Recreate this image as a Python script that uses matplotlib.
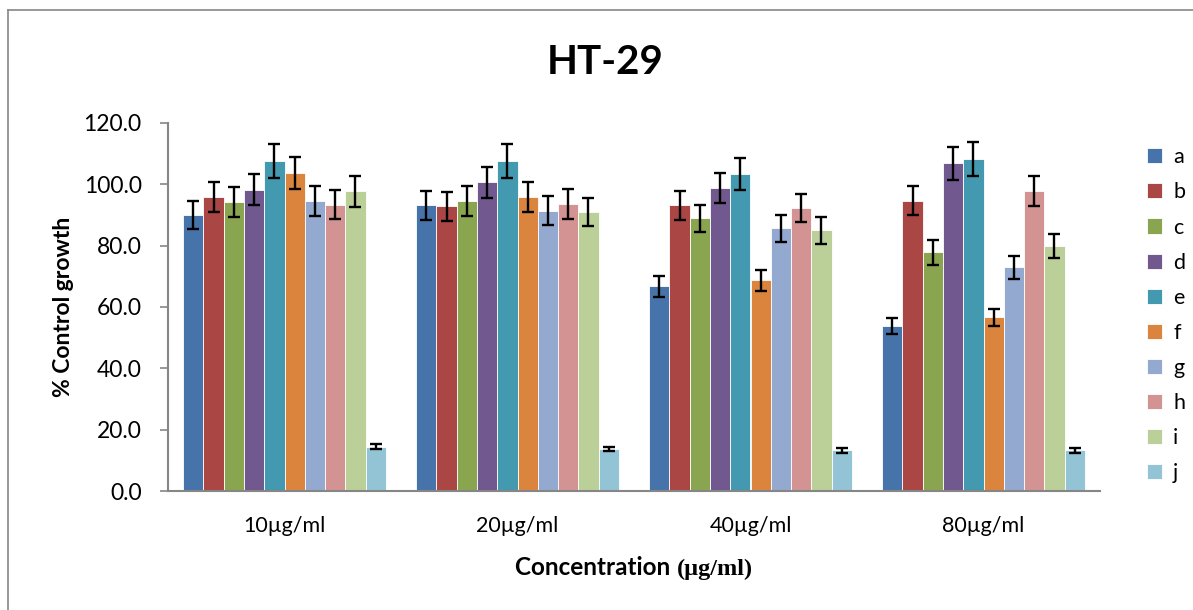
import matplotlib
matplotlib.use("Agg")
import matplotlib.pyplot as plt
import numpy as np
from matplotlib.lines import Line2D
from matplotlib.offsetbox import TextArea, HPacker, AnchoredOffsetbox

# data
concentrations = ["10µg/ml", "20µg/ml", "40µg/ml", "80µg/ml"]
series = ["a", "b", "c", "d", "e", "f", "g", "h", "i", "j"]
values = {
    "a": [90.0, 93.1, 66.7, 53.8],
    "b": [95.9, 92.8, 93.1, 94.7],
    "c": [94.3, 94.6, 88.9, 77.8],
    "d": [98.3, 100.7, 98.8, 106.9],
    "e": [107.6, 107.7, 103.3, 108.2],
    "f": [103.6, 95.9, 68.7, 56.6],
    "g": [94.6, 91.4, 85.6, 72.9],
    "h": [93.3, 93.6, 92.3, 97.9],
    "i": [97.7, 91.1, 85.0, 79.9],
    "j": [14.5, 13.7, 13.3, 13.3],
}
errors = {
    "a": [4.6, 4.7, 3.4, 2.7],
    "b": [4.9, 4.7, 4.7, 4.8],
    "c": [4.8, 4.8, 4.5, 4.0],
    "d": [5.0, 5.1, 5.0, 5.4],
    "e": [5.4, 5.5, 5.2, 5.5],
    "f": [5.2, 4.9, 3.5, 2.9],
    "g": [4.8, 4.7, 4.3, 3.7],
    "h": [4.7, 4.8, 4.7, 4.9],
    "i": [5.0, 4.6, 4.3, 4.0],
    "j": [0.8, 0.75, 0.75, 0.75],
}
colors = ["#4674AA", "#AA4643", "#8AA54F", "#71588F", "#4299B0",
          "#DB843D", "#94A9CF", "#D29392", "#BBCF99", "#93C4D6"]

plt.rcParams["font.family"] = ["Lato", "DejaVu Sans"]

fig = plt.figure(figsize=(11.93, 6.10), dpi=100)
W, H = 1193, 610
ax = fig.add_axes([168 / W, 1 - 491 / H, (1100 - 168) / W, (491 - 123) / H])

x = np.arange(len(concentrations))
n = len(series)
group_w = 0.87
bw = group_w / n
for i, (s, c) in enumerate(zip(series, colors)):
    pos = x - group_w / 2 + bw * (i + 0.5)
    ax.bar(pos, values[s], bw, color=c, edgecolor="white", linewidth=0.6,
           label=s, zorder=2)
    ax.errorbar(pos, values[s], yerr=errors[s], fmt="none", ecolor="black",
                elinewidth=1.7, capsize=4.5, capthick=1.7, zorder=3)

ax.set_xlim(-0.5, len(concentrations) - 0.5)
ax.set_ylim(0, 120)
ax.set_yticks(np.arange(0, 121, 20))
ax.set_yticklabels([f"{v:.1f}" for v in np.arange(0, 121, 20)], fontsize=16.5)
ax.set_xticks(x)
ax.set_xticklabels(concentrations, fontsize=15.5)
ax.tick_params(axis="x", length=0, pad=18)
ax.tick_params(axis="y", length=6, color="#868686", width=1.2, pad=13)
for side in ["top", "right"]:
    ax.spines[side].set_visible(False)
for side in ["left", "bottom"]:
    ax.spines[side].set_color("#868686")
    ax.spines[side].set_linewidth(1.5)

ax.set_ylabel("% Control growth", fontsize=16.5, fontweight="bold", labelpad=7)

fig.text(605 / W, 1 - 62 / H, "HT-29", ha="center", va="center",
         fontsize=29, fontweight="bold")

# x label with serif unit part
t1 = TextArea("Concentration ", textprops=dict(fontsize=17.5, fontweight="bold", family="Lato"))
t2 = TextArea("(µg/ml)", textprops=dict(fontsize=17.5, fontweight="bold", family="Liberation Serif"))
box = HPacker(children=[t1, t2], align="baseline", pad=0, sep=0)
anch = AnchoredOffsetbox(loc="center", child=box, frameon=False,
                         bbox_to_anchor=(634 / W, 1 - 568 / H),
                         bbox_transform=fig.transFigure, borderpad=0, pad=0)
fig.add_artist(anch)

leg = fig.legend(loc="upper left", bbox_to_anchor=(1128 / W, 1 - 128 / H),
                 frameon=False, fontsize=15.5, handlelength=0.7, handleheight=0.7,
                 labelspacing=0.7, handletextpad=0.5)

# outer chart border
fig.add_artist(Line2D([8 / W, 8 / W], [0, 1 - 10 / H], transform=fig.transFigure,
                      color="#868686", linewidth=1.2))
fig.add_artist(Line2D([8 / W, 1], [1 - 10 / H, 1 - 10 / H], transform=fig.transFigure,
                      color="#868686", linewidth=1.2))

fig.savefig("out.png", dpi=100)
